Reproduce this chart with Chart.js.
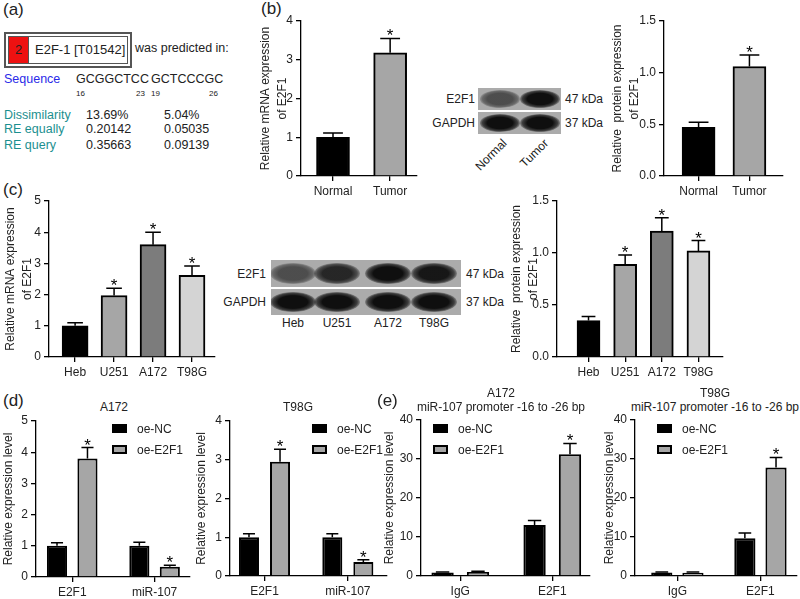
<!DOCTYPE html>
<html lang="en">
<head>
<meta charset="UTF-8">
<title>E2F1 figure</title>
<script src="https://cdn.jsdelivr.net/npm/chart.js"></script>
<style>
    body { margin: 0; background: #fff; font-family: "Liberation Sans", Arial, sans-serif; color: #222; }
    #fig { position: relative; width: 800px; height: 599px; overflow: hidden; }
    #fig canvas { position: absolute; }
    .abs { position: absolute; white-space: nowrap; line-height: 14px; }
    .tfbox { position: absolute; left: 4px; top: 32px; width: 120px; height: 28px; border: 2px solid #555; padding: 2px; }
    .tfin { display: flex; height: 26px; border: 1px solid #555; font-size: 13px; }
    .tfin .red { width: 19px; background: #ee1111; border-right: 1px solid #555; text-align: center; line-height: 26px; }
    .tfin .name { padding-left: 6px; line-height: 26px; }
    .blot { position: absolute; background: #ababab; overflow: hidden; }
    .band { position: absolute; border-radius: 50%;
            background: radial-gradient(ellipse at center, rgba(15,15,15,1) 45%, rgba(15,15,15,0.7) 62%, rgba(15,15,15,0) 76%); }
    .lg { position: absolute; width: 15px; height: 9px; box-sizing: border-box; border: 2px solid #000; }
</style>
</head>
<body>
<div id="fig">
    <div class="tfbox"><div class="tfin"><div class="red">2</div><div class="name">E2F-1 [T01542]</div></div></div>
</div>
<script>
    // ---- data ----
    const tissueCats = ['Normal', 'Tumor'];
    const tissueMrna = [1.0, 3.18];
    const tissueMrnaSd = [0.11, 0.37];
    const tissueProt = [0.47, 1.06];
    const tissueProtSd = [0.05, 0.11];
    const tissueStars = [false, true];

    const cellCats = ['Heb', 'U251', 'A172', 'T98G'];
    const cellMrna = [1.0, 1.97, 3.6, 2.62];
    const cellMrnaSd = [0.1, 0.23, 0.4, 0.3];
    const cellProt = [0.35, 0.89, 1.21, 1.02];
    const cellProtSd = [0.04, 0.09, 0.13, 0.1];
    const cellStars = [false, true, true, true];

    const oeCats = ['E2F1', 'miR-107'];
    const a172NC = [1.0, 1.0];
    const a172NCSd = [0.1, 0.11];
    const a172OE = [3.8, 0.33];
    const a172OESd = [0.35, 0.05];
    const t98NC = [1.0, 1.0];
    const t98NCSd = [0.09, 0.09];
    const t98OE = [2.95, 0.36];
    const t98OESd = [0.32, 0.06];

    const chipCats = ['IgG', 'E2F1'];
    const chipA172NC = [0.9, 13.1];
    const chipA172NCSd = [0.15, 1.1];
    const chipA172OE = [1.0, 31.2];
    const chipA172OESd = [0.2, 2.8];
    const chipT98NC = [0.9, 9.7];
    const chipT98NCSd = [0.12, 1.3];
    const chipT98OE = [0.85, 27.8];
    const chipT98OESd = [0.15, 2.6];

    const FONT = '"Liberation Sans", Arial, sans-serif';
    const BLACK = '#000000', GREY = '#a6a6a6', DARK = '#7c7c7c', LIGHT = '#d4d4d4';
    const fig = document.getElementById('fig');

    // text helper: y is the vertical centre
    function put(text, x, y, opt = {}) {
        const d = document.createElement('div');
        d.className = 'abs';
        d.textContent = text;
        d.style.fontSize = (opt.size || 12) + 'px';
        d.style.top = (y - 7) + 'px';
        if (opt.color) d.style.color = opt.color;
        if (opt.align === 'r') {
            d.style.right = (800 - x) + 'px';
        } else {
            d.style.left = x + 'px';
            if (opt.align === 'c') d.style.transform = 'translateX(-50%)';
        }
        if (opt.rot) {
            d.style.transformOrigin = 'right center';
            d.style.transform = 'rotate(' + opt.rot + 'deg)';
        }
        fig.appendChild(d);
        return d;
    }

    // western blot strip
    function blot(x, y, w, h, lanes, dens, bw) {
        const b = document.createElement('div');
        b.className = 'blot';
        b.style.cssText = `left:${x}px;top:${y}px;width:${w}px;height:${h}px`;
        lanes.forEach((cx, i) => {
            const band = document.createElement('div');
            band.className = 'band';
            const bh = h * 0.8;
            band.style.cssText = `left:${cx - x - bw / 2}px;top:${(h - bh) / 2}px;width:${bw}px;height:${bh}px;opacity:${dens[i]}`;
            b.appendChild(band);
        });
        fig.appendChild(b);
    }

    function legend(x, y) {
        const b1 = document.createElement('div');
        b1.className = 'lg';
        b1.style.cssText = `left:${x}px;top:${y}px;background:${BLACK}`;
        const b2 = document.createElement('div');
        b2.className = 'lg';
        b2.style.cssText = `left:${x}px;top:${y + 21}px;background:${GREY}`;
        fig.appendChild(b1);
        fig.appendChild(b2);
        put('oe-NC', x + 25, y + 4.5);
        put('oe-E2F1', x + 25, y + 25.5);
    }

    // error bars + asterisks
    const errorBars = {
        id: 'errorBars',
        afterDatasetsDraw(chart) {
            const ctx = chart.ctx, ys = chart.scales.y;
            chart.data.datasets.forEach((ds, di) => {
                chart.getDatasetMeta(di).data.forEach((bar, i) => {
                    const top = ys.getPixelForValue(ds.vals[i] + ds.sd[i]);
                    const cap = bar.width * 0.3;
                    ctx.save();
                    ctx.strokeStyle = '#000';
                    ctx.lineWidth = 1.5;
                    ctx.beginPath();
                    ctx.moveTo(bar.x, bar.y);
                    ctx.lineTo(bar.x, top);
                    ctx.moveTo(bar.x - cap, top);
                    ctx.lineTo(bar.x + cap, top);
                    ctx.stroke();
                    if (ds.star && ds.star[i]) {
                        ctx.fillStyle = '#000';
                        ctx.font = '17px ' + FONT;
                        ctx.textAlign = 'center';
                        ctx.textBaseline = 'alphabetic';
                        ctx.fillText('*', bar.x, top + 3);
                    }
                    ctx.restore();
                });
            });
        }
    };

    // one bar panel, placed so its axes land at the given pixels
    function panel(p) {
        const left = Math.round(p.titleX - 12.7);
        const padTop = 12, xH = 26, padRight = 6;
        const cv = document.createElement('canvas');
        cv.width = p.plotRight + padRight - left;
        cv.height = padTop + (p.plotBottom - p.plotTop) + xH;
        cv.style.left = left + 'px';
        cv.style.top = (p.plotTop - padTop) + 'px';
        fig.appendChild(cv);

        const datasets = p.sets.map(s => ({
            data: s.vals.map((v, i) => ({ x: i, y: v })),
            vals: s.vals, sd: s.sd, star: s.star,
            backgroundColor: s.color,
            borderColor: '#000',
            borderWidth: 2,
            barThickness: p.barW,
            categoryPercentage: p.cp || 0.8,
            barPercentage: p.bp || 0.9
        }));
        const tickFont = { family: FONT, size: 12 };

        new Chart(cv.getContext('2d'), {
            type: 'bar',
            data: { datasets },
            plugins: [errorBars],
            options: {
                responsive: false,
                animation: false,
                layout: { padding: { top: padTop, right: padRight, left: 0, bottom: 0 } },
                plugins: { legend: { display: false }, tooltip: { enabled: false } },
                scales: {
                    x: {
                        type: 'linear',
                        offset: false,
                        min: p.xMin, max: p.xMax,
                        afterBuildTicks: s => { s.ticks = p.cats.map((c, i) => ({ value: i })); },
                        ticks: { callback: (v, i) => p.cats[i], font: tickFont, color: '#222', padding: 3, maxRotation: 0, autoSkip: false },
                        grid: { offset: false, drawOnChartArea: false, drawTicks: true, tickLength: 5, color: '#000', lineWidth: 1.3 },
                        border: { color: '#000', width: 1.3 },
                        afterFit: s => { s.height = xH; }
                    },
                    y: {
                        min: 0, max: p.yMax,
                        ticks: { stepSize: p.yStep, callback: v => v.toFixed(p.dec || 0), font: tickFont, color: '#222', padding: 3 },
                        grid: { drawOnChartArea: false, tickLength: 5, color: '#000', lineWidth: 1.3 },
                        border: { color: '#000', width: 1.3 },
                        title: { display: true, text: p.yTitle, color: '#222', padding: { top: 4, bottom: 0 },
                                 font: { family: FONT, size: 12, lineHeight: 1.45 } },
                        afterFit: s => { s.width = p.axisX - left; }
                    }
                }
            }
        });
    }

    // ---- panel (a) ----
    put('(a)', 3, 10, { size: 17 });
    put('was predicted in:', 135, 48, { size: 12.5 });
    put('Sequence', 4, 79, { size: 12.5, color: '#2a2ae8' });
    put('GCGGCTCC', 76, 79, { size: 12.5 });
    put('GCTCCCGC', 151, 79, { size: 12.5 });
    put('16', 76, 94, { size: 8 });
    put('23', 145, 94, { size: 8, align: 'r' });
    put('19', 151, 94, { size: 8 });
    put('26', 218, 94, { size: 8, align: 'r' });
    const teal = '#1b8f8f';
    put('Dissimilarity', 4, 115, { size: 12.5, color: teal });
    put('RE equally', 4, 129, { size: 12.5, color: teal });
    put('RE query', 4, 145, { size: 12.5, color: teal });
    put('13.69%', 86, 115, { size: 12.5 });
    put('0.20142', 86, 129, { size: 12.5 });
    put('0.35663', 86, 145, { size: 12.5 });
    put('5.04%', 164, 115, { size: 12.5 });
    put('0.05035', 164, 129, { size: 12.5 });
    put('0.09139', 164, 145, { size: 12.5 });

    // ---- panel (b) ----
    put('(b)', 261, 9, { size: 17 });
    panel({ titleX: 266, axisX: 301, plotTop: 21, plotBottom: 176, plotRight: 417,
            cats: tissueCats, xMin: -0.56, xMax: 1.47, barW: 33,
            sets: [{ vals: tissueMrna, sd: tissueMrnaSd, star: tissueStars, color: [BLACK, GREY] }],
            yMax: 4, yStep: 1, yTitle: ['Relative mRNA expression', 'of E2F1'] });
    blot(478, 88, 83, 22, [500, 540], [0.6, 1], 40);
    blot(478, 112, 83, 22, [500, 540], [1, 1], 40);
    put('E2F1', 475, 99, { align: 'r' });
    put('GAPDH', 475, 123, { align: 'r' });
    put('47 kDa', 565, 99);
    put('37 kDa', 565, 123);
    put('Normal', 505, 141, { align: 'r', rot: -45 });
    put('Tumor', 546, 141, { align: 'r', rot: -45 });
    panel({ titleX: 618, axisX: 664, plotTop: 21, plotBottom: 176, plotRight: 783,
            cats: tissueCats, xMin: -0.68, xMax: 1.66, barW: 33,
            sets: [{ vals: tissueProt, sd: tissueProtSd, star: tissueStars, color: [BLACK, GREY] }],
            yMax: 1.5, yStep: 0.5, dec: 1, yTitle: ['Relative  protein expression', 'of E2F1'] });

    // ---- panel (c) ----
    put('(c)', 3, 190, { size: 17 });
    panel({ titleX: 11, axisX: 49, plotTop: 201, plotBottom: 357, plotRight: 215,
            cats: cellCats, xMin: -0.67, xMax: 3.59, barW: 26,
            sets: [{ vals: cellMrna, sd: cellMrnaSd, star: cellStars, color: [BLACK, GREY, DARK, LIGHT] }],
            yMax: 5, yStep: 1, yTitle: ['Relative mRNA expression', 'of E2F1'] });
    const cLanes = [293, 337, 388, 434];
    blot(271, 260, 190, 27, cLanes, [0.6, 0.85, 1, 0.95], 46);
    blot(271, 289, 190, 26, cLanes, [1, 1, 1, 1], 46);
    put('E2F1', 266, 274, { align: 'r' });
    put('GAPDH', 266, 302, { align: 'r' });
    put('47 kDa', 466, 274);
    put('37 kDa', 466, 302);
    cellCats.forEach((c, i) => put(c, cLanes[i], 323, { align: 'c' }));
    panel({ titleX: 517, axisX: 557, plotTop: 201, plotBottom: 357, plotRight: 723,
            cats: cellCats, xMin: -0.86, xMax: 3.67, barW: 23,
            sets: [{ vals: cellProt, sd: cellProtSd, star: cellStars, color: [BLACK, GREY, DARK, LIGHT] }],
            yMax: 1.5, yStep: 0.5, dec: 1, yTitle: ['Relative  protein expression', 'of E2F1'] });

    // ---- panel (d) ----
    put('(d)', 3, 401, { size: 17 });
    put('A172', 114, 407, { align: 'c' });
    panel({ titleX: 9, axisX: 36, plotTop: 421, plotBottom: 577, plotRight: 190,
            cats: oeCats, xMin: -0.44, xMax: 1.43, cp: 0.74, bp: 0.66,
            sets: [{ vals: a172NC, sd: a172NCSd, star: [false, false], color: BLACK },
                   { vals: a172OE, sd: a172OESd, star: [true, true], color: GREY }],
            yMax: 5, yStep: 1, yTitle: 'Relative expression level' });
    legend(112, 424);
    put('T98G', 298, 407, { align: 'c' });
    panel({ titleX: 202, axisX: 230, plotTop: 421, plotBottom: 576, plotRight: 387,
            cats: oeCats, xMin: -0.414, xMax: 1.47, cp: 0.745, bp: 0.645,
            sets: [{ vals: t98NC, sd: t98NCSd, star: [false, false], color: BLACK },
                   { vals: t98OE, sd: t98OESd, star: [true, true], color: GREY }],
            yMax: 4, yStep: 1, yTitle: 'Relative expression level' });
    legend(312, 424);

    // ---- panel (e) ----
    put('(e)', 377, 401, { size: 17 });
    put('A172', 501, 393, { align: 'c' });
    put('miR-107 promoter -16 to -26 bp', 501, 407, { align: 'c' });
    panel({ titleX: 390, axisX: 421, plotTop: 420, plotBottom: 576, plotRight: 590,
            cats: chipCats, xMin: -0.427, xMax: 1.41, cp: 0.77, bp: 0.63,
            sets: [{ vals: chipA172NC, sd: chipA172NCSd, star: [false, false], color: BLACK },
                   { vals: chipA172OE, sd: chipA172OESd, star: [false, true], color: GREY }],
            yMax: 40, yStep: 10, yTitle: 'Relative expression level' });
    legend(433, 424);
    put('T98G', 715, 393, { align: 'c' });
    put('miR-107 promoter -16 to -26 bp', 715, 407, { align: 'c' });
    panel({ titleX: 610, axisX: 635, plotTop: 420, plotBottom: 576, plotRight: 797,
            cats: chipCats, xMin: -0.51, xMax: 1.44, cp: 0.75, bp: 0.68,
            sets: [{ vals: chipT98NC, sd: chipT98NCSd, star: [false, false], color: BLACK },
                   { vals: chipT98OE, sd: chipT98OESd, star: [false, true], color: GREY }],
            yMax: 40, yStep: 10, yTitle: 'Relative expression level' });
    legend(657, 424);
</script>
</body>
</html>
